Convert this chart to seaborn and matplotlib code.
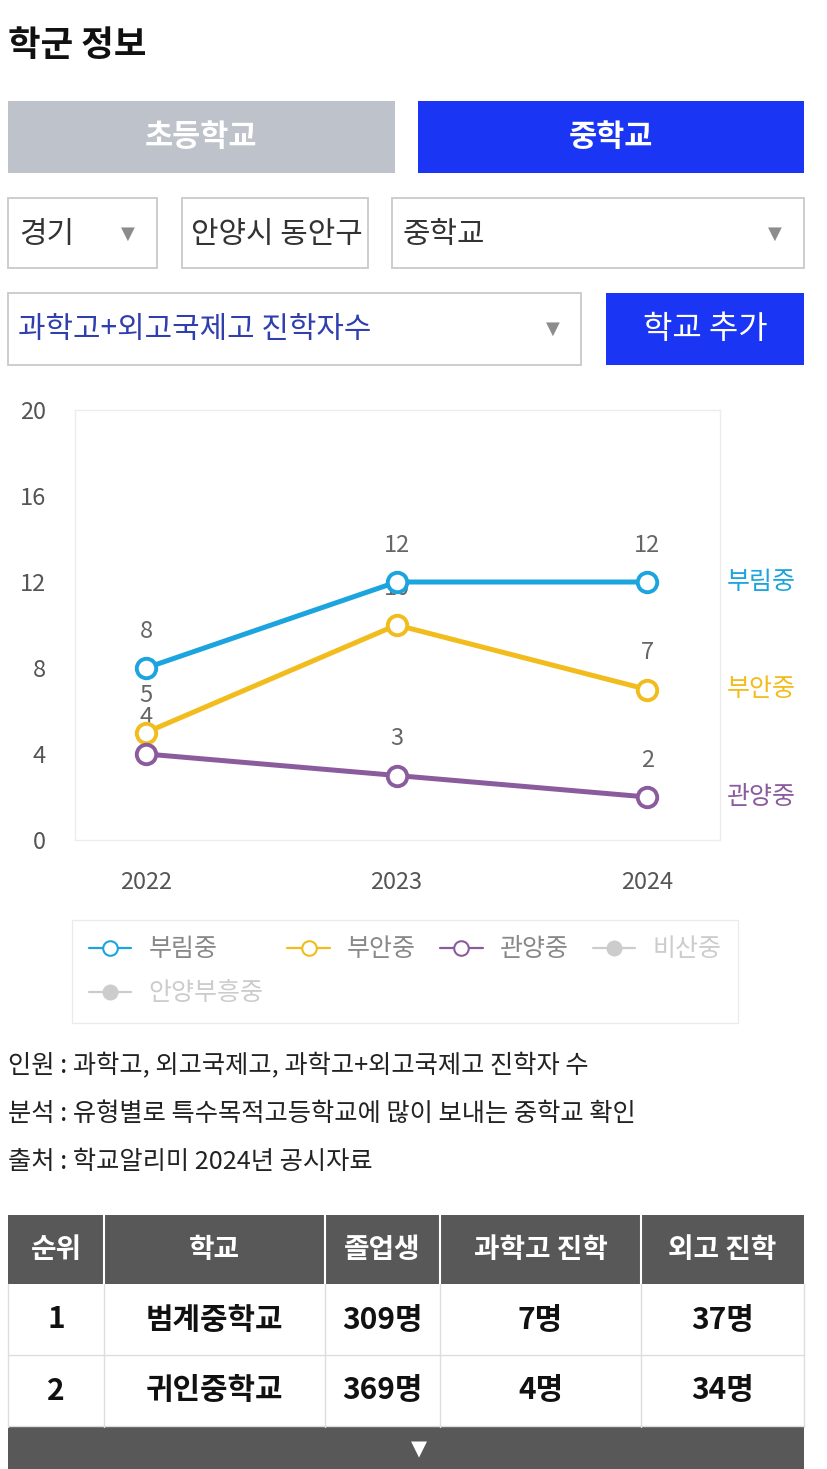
import numpy as np
import pandas as pd
import matplotlib
matplotlib.use('Agg')
import matplotlib.pyplot as plt
import seaborn as sns
from matplotlib.patches import Rectangle
from matplotlib.lines import Line2D

# ---------------- data ----------------
years = [2022, 2023, 2024]
school_names = ['부림중', '부안중', '관양중']
burim = [8, 12, 12]
buan = [5, 10, 7]
gwanyang = [4, 3, 2]
hidden_schools = ['비산중', '안양부흥중']
series_colors = ['#1CA4DE', '#F1BC1C', '#8B5C9D']
y_ticks = [0, 4, 8, 12, 16, 20]

title = '학군 정보'
tab_labels = ['초등학교', '중학교']
region = '경기'
district = '안양시 동안구'
school_level = '중학교'
metric = '과학고+외고국제고 진학자수'
add_button = '학교 추가'
notes = ['인원 : 과학고, 외고국제고, 과학고+외고국제고 진학자 수',
         '분석 : 유형별로 특수목적고등학교에 많이 보내는 중학교 확인',
         '출처 : 학교알리미 2024년 공시자료']
table_header = ['순위', '학교', '졸업생', '과학고 진학', '외고 진학']
ranks = [1, 2]
table_schools = ['범계중학교', '귀인중학교']
graduates = [309, 369]
science = [7, 4]
foreign = [37, 34]

# ---------------- setup ----------------
sns.set_theme(style='white')
FONTS = ['Noto Sans CJK KR', 'DejaVu Sans']
plt.rcParams['font.family'] = FONTS

W, H = 827, 1469
fig = plt.figure(figsize=(W / 100, H / 100), dpi=100)
fig.patch.set_facecolor('white')
ui = fig.add_axes([0, 0, 1, 1])
ui.set_xlim(0, W)
ui.set_ylim(H, 0)
ui.axis('off')


def px_axes(l, t, r, b):
    return [l / W, 1 - b / H, (r - l) / W, (b - t) / H]


BLUE = '#1A35F3'
GREYTAB = '#BEC2CA'
BORDER = '#c9c9c9'
ARROW = '#8c8c8c'

# title
ui.text(8, 45, title, fontsize=25.5, weight='bold', color='#111111', ha='left', va='center')

# tabs
ui.add_patch(Rectangle((8, 101), 387, 72, fc=GREYTAB, ec='none'))
ui.text(201, 137, tab_labels[0], fontsize=22, weight='bold', color='white', ha='center', va='center')
ui.add_patch(Rectangle((418, 101), 386, 72, fc=BLUE, ec='none'))
ui.text(611, 137, tab_labels[1], fontsize=22, weight='bold', color='white', ha='center', va='center')

# dropdowns row 1
def box(x, y, w, h, fc='white', ec=BORDER):
    r = Rectangle((x, y), w, h, fc=fc, ec=ec, lw=1.3)
    ui.add_patch(r)
    return r

box(8, 198, 149, 70)
ui.text(19, 234, region, fontsize=21.5, color='#333333', ha='left', va='center')
ui.text(128, 234, '▼', fontsize=13, color=ARROW, ha='center', va='center', family='DejaVu Sans')

b2 = box(182, 198, 186, 70)
t2 = ui.text(191, 234, district, fontsize=21.5, color='#333333', ha='left', va='center')
t2.set_clip_path(b2)

box(392, 198, 412, 70)
ui.text(403, 234, school_level, fontsize=21.5, color='#333333', ha='left', va='center')
ui.text(775, 234, '▼', fontsize=13, color=ARROW, ha='center', va='center', family='DejaVu Sans')

# row 2
box(8, 293, 573, 72)
ui.text(18, 329, metric, fontsize=21.5, color='#2f3fae', ha='left', va='center')
ui.text(553, 329, '▼', fontsize=13, color=ARROW, ha='center', va='center', family='DejaVu Sans')
ui.add_patch(Rectangle((606, 293), 198, 72, fc=BLUE, ec='none'))
ui.text(705, 329, add_button, fontsize=23, color='white', ha='center', va='center')

# ---------------- chart ----------------
ax = fig.add_axes(px_axes(75, 410, 720, 840))
ax.set_facecolor('white')
df = pd.DataFrame({
    'year': years * 3,
    'value': burim + buan + gwanyang,
    'school': np.repeat(school_names, len(years)),
})
for name, color in zip(school_names, series_colors):
    sub = df[df['school'] == name]
    sns.lineplot(data=sub, x='year', y='value', ax=ax, color=color, linewidth=3.6,
                 marker='o', markersize=14, markerfacecolor='white',
                 markeredgecolor=color, markeredgewidth=2.8, zorder=3, legend=False)
    for xv, yv in zip(sub['year'], sub['value']):
        ax.annotate(str(yv), (xv, yv), xytext=(0, 26.5), textcoords='offset points',
                    ha='center', va='center', fontsize=17, color='#666666', zorder=2)
    ax.annotate(name, (1, sub['value'].iloc[-1]), xycoords=('axes fraction', 'data'),
                xytext=(5, 0), textcoords='offset points', ha='left', va='center',
                fontsize=18, color=color, annotation_clip=False)

ax.set_xlim(2021.717, 2024.29)
ax.set_ylim(0, 20)
ax.set_yticks(y_ticks)
ax.set_xticks(years)
ax.set_xticklabels([str(y) for y in years])
ax.set_xlabel('')
ax.set_ylabel('')
ax.tick_params(axis='both', length=0, labelsize=17, colors='#555555')
ax.tick_params(axis='y', pad=21)
ax.tick_params(axis='x', pad=22)
for s in ax.spines.values():
    s.set_color('#ececec')
    s.set_linewidth(1)
ax.grid(False)

# legend
handles = []
for name, color in zip(school_names, series_colors):
    handles.append(Line2D([], [], color=color, lw=1.6, marker='o', markersize=10.5,
                          markerfacecolor='white', markeredgecolor=color,
                          markeredgewidth=1.5, label=name))
for name in hidden_schools:
    handles.append(Line2D([], [], color='#cccccc', lw=1.6, marker='o', markersize=10.5,
                          markerfacecolor='#cccccc', markeredgecolor='#cccccc',
                          label=name))
order = [0, 4, 1, 2, 3]
leg = fig.legend([handles[i] for i in order], [handles[i].get_label() for i in order],
                 loc='upper left', bbox_to_anchor=(72 / W, 1 - 920 / H), ncol=4,
                 fontsize=18, frameon=True, fancybox=False, edgecolor='#e6e6e6',
                 handlelength=1.7, handletextpad=0.7, columnspacing=0.95,
                 labelspacing=0.72, borderpad=0.66, borderaxespad=0)
leg.get_frame().set_linewidth(1)
for t, i in zip(leg.get_texts(), order):
    t.set_color('#888888' if i < 3 else '#cccccc')

# notes
for k, line in enumerate(notes):
    ui.text(8, 1066 + k * 48, line, fontsize=18.2, color='#222222', ha='left', va='center')

# ---------------- table ----------------
col_edges = [8, 104, 325, 440, 641, 804]
TGREY = '#585858'
ui.add_patch(Rectangle((8, 1215), 796, 69, fc=TGREY, ec='none'))
for x in col_edges[1:-1]:
    ui.plot([x, x], [1215, 1284], color='white', lw=1.5)
centers = [(a + b) / 2 for a, b in zip(col_edges[:-1], col_edges[1:])]
for c, h in zip(centers, table_header):
    ui.text(c, 1250, h, color='white', fontsize=20, weight='bold', ha='center', va='center')

row_top = [1284, 1355]
row_h = 71
for r in range(len(ranks)):
    top = row_top[r]
    vals = [str(ranks[r]), table_schools[r], f'{graduates[r]}명', f'{science[r]}명', f'{foreign[r]}명']
    for c, v in zip(centers, vals):
        ui.text(c, top + row_h / 2, v, color='#111111', fontsize=21.5, weight='bold', ha='center', va='center')
    ui.plot([8, 804], [top + row_h, top + row_h], color='#dddddd', lw=1)
for x in col_edges:
    ui.plot([x, x], [1284, 1427], color='#dddddd', lw=1)

ui.add_patch(Rectangle((8, 1427), 796, 42, fc=TGREY, ec='none'))
ui.text(419, 1449, '▼', fontsize=15, color='white', ha='center', va='center', family='DejaVu Sans')

fig.savefig('out.png', dpi=100, facecolor='white')
